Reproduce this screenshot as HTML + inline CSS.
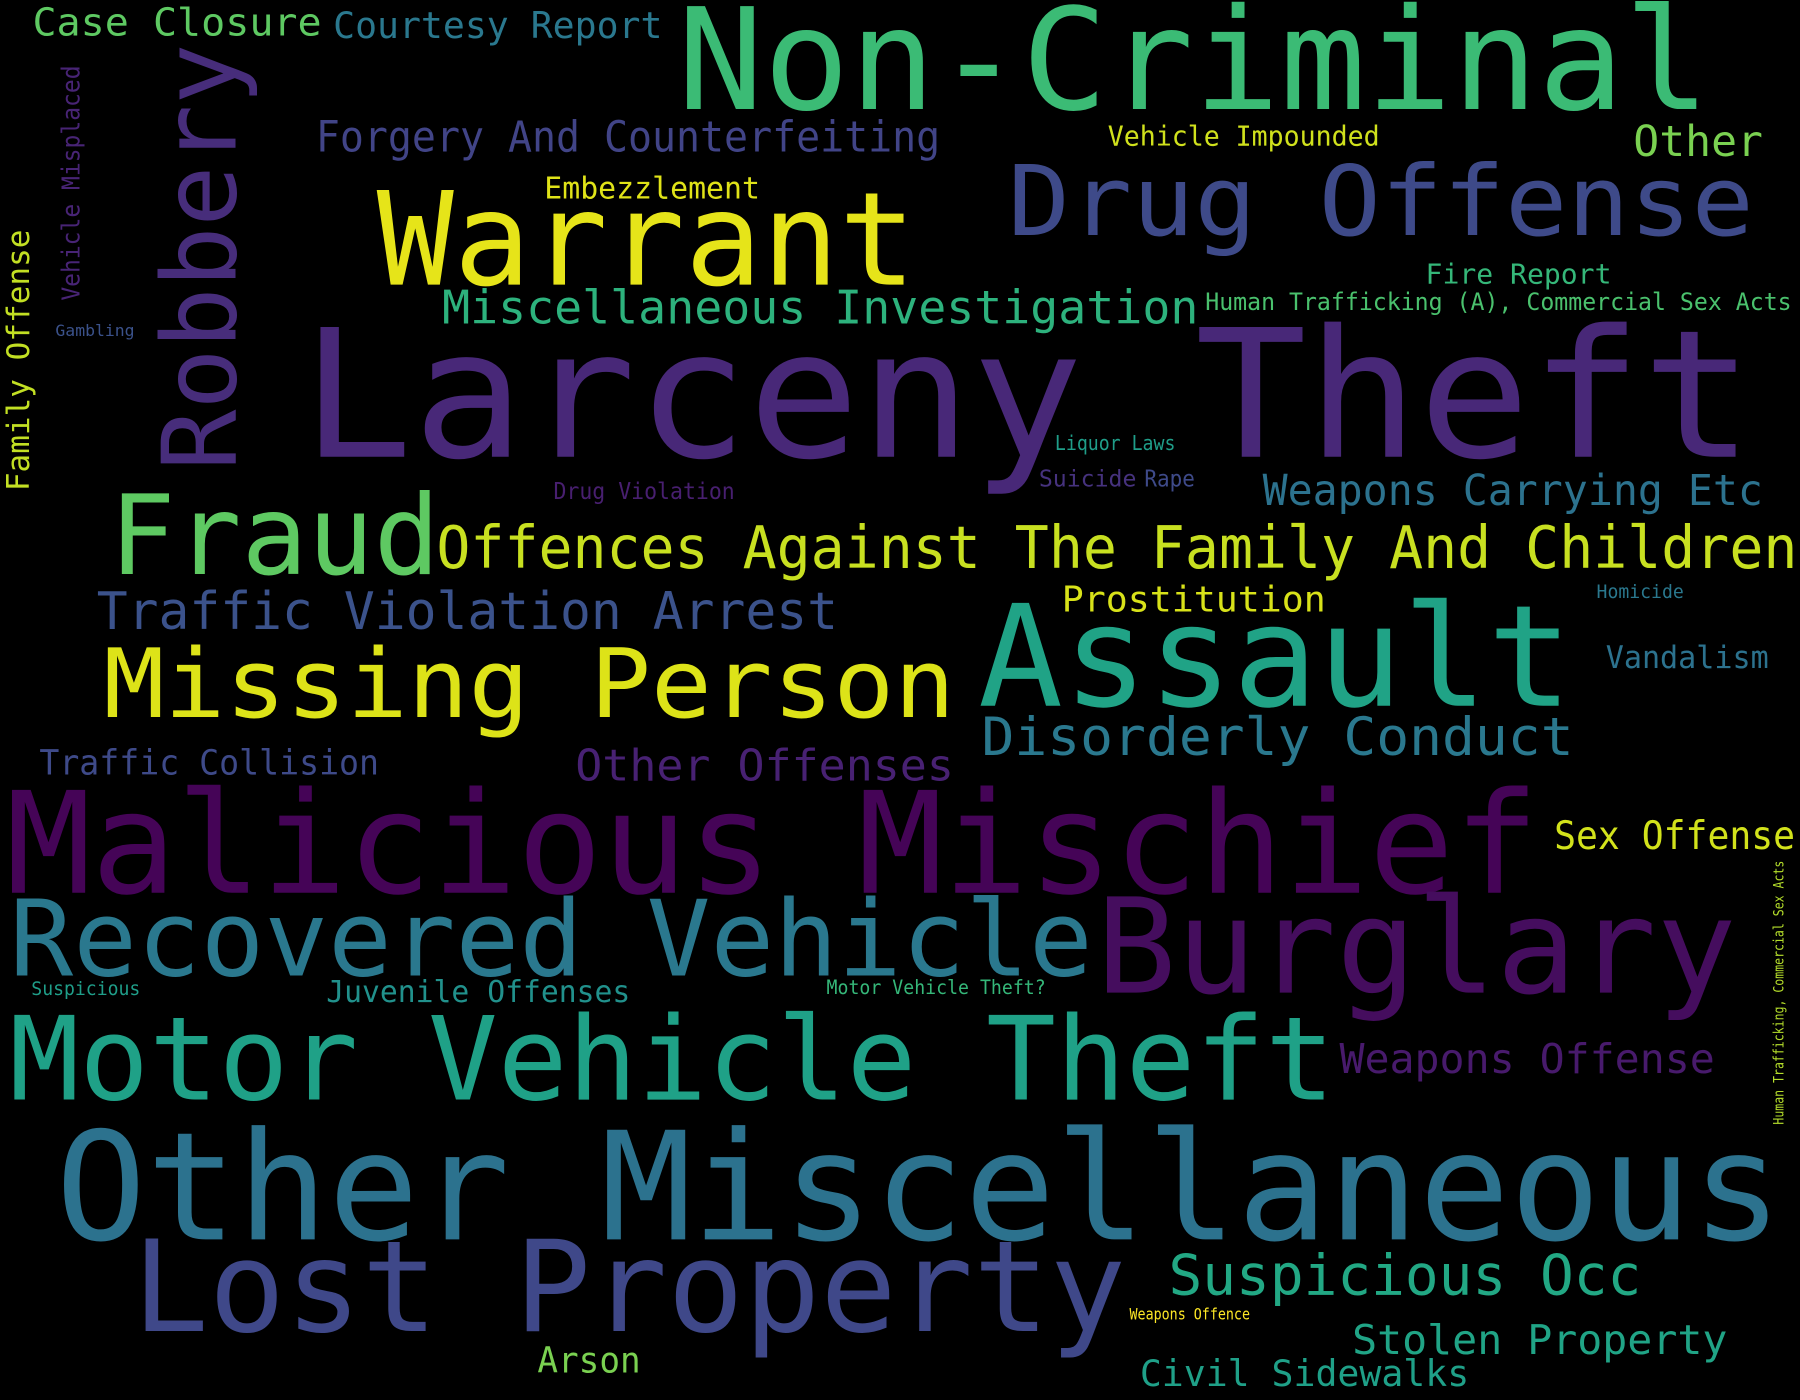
<!DOCTYPE html>
<html><head><meta charset="utf-8"><style>
html,body{margin:0;padding:0;background:#000;}
svg{display:block;}
text{font-family:"DejaVu Sans Mono","Liberation Mono",monospace;}
</style></head><body>
<svg width="1800" height="1400" viewBox="0 0 1568 1220" xmlns="http://www.w3.org/2000/svg">
<rect width="1568" height="1220" fill="#000"/>
<g>
<text x="28" y="31" font-size="33" fill="#5ec962" textLength="252" lengthAdjust="spacingAndGlyphs">Case Closure</text>
<text x="290" y="33" font-size="32" fill="#2a788e" textLength="287" lengthAdjust="spacingAndGlyphs">Courtesy Report</text>
<text x="590" y="95" font-size="123" fill="#3bbb75" textLength="900" lengthAdjust="spacingAndGlyphs">Non-Criminal</text>
<text x="275" y="132" font-size="37" fill="#414487" textLength="544" lengthAdjust="spacingAndGlyphs">Forgery And Counterfeiting</text>
<text x="965" y="127" font-size="24" fill="#d0e11c" textLength="237" lengthAdjust="spacingAndGlyphs">Vehicle Impounded</text>
<text x="1423" y="136" font-size="37" fill="#7ad151" textLength="113" lengthAdjust="spacingAndGlyphs">Other</text>
<text x="878" y="205" font-size="85" fill="#3e4a89" textLength="650" lengthAdjust="spacingAndGlyphs">Drug Offense</text>
<text x="474" y="173" font-size="26" fill="#e0e318" textLength="188" lengthAdjust="spacingAndGlyphs">Embezzlement</text>
<text x="328" y="248" font-size="113" fill="#e6e419" textLength="470" lengthAdjust="spacingAndGlyphs">Warrant</text>
<text x="205" y="410" font-size="89" fill="#472d7b" textLength="372" lengthAdjust="spacingAndGlyphs" transform="rotate(-90 205 410)">Robbery</text>
<text x="385" y="282" font-size="40" fill="#2db27d" textLength="659" lengthAdjust="spacingAndGlyphs">Miscellaneous Investigation</text>
<text x="1242" y="247" font-size="24" fill="#35b779" textLength="162" lengthAdjust="spacingAndGlyphs">Fire Report</text>
<text x="1050" y="270" font-size="21" fill="#4ac16d" textLength="511" lengthAdjust="spacingAndGlyphs">Human Trafficking (A), Commercial Sex Acts</text>
<text x="48" y="293" font-size="14" fill="#3b528b" textLength="69" lengthAdjust="spacingAndGlyphs">Gambling</text>
<text x="69" y="262" font-size="22" fill="#482475" textLength="205" lengthAdjust="spacingAndGlyphs" transform="rotate(-90 69 262)">Vehicle Misplaced</text>
<text x="25" y="428" font-size="27" fill="#c2df23" textLength="228" lengthAdjust="spacingAndGlyphs" transform="rotate(-90 25 428)">Family Offense</text>
<text x="262" y="398" font-size="155" fill="#482878" textLength="1266" lengthAdjust="spacingAndGlyphs">Larceny Theft</text>
<text x="919" y="392" font-size="18" fill="#1f9e89" textLength="105" lengthAdjust="spacingAndGlyphs">Liquor Laws</text>
<text x="905" y="424" font-size="20" fill="#46327e" textLength="85" lengthAdjust="spacingAndGlyphs">Suicide</text>
<text x="997" y="424" font-size="20" fill="#3e4a89" textLength="44" lengthAdjust="spacingAndGlyphs">Rape</text>
<text x="482" y="435" font-size="20" fill="#481f70" textLength="158" lengthAdjust="spacingAndGlyphs">Drug Violation</text>
<text x="1100" y="440" font-size="37" fill="#2c728e" textLength="436" lengthAdjust="spacingAndGlyphs">Weapons Carrying Etc</text>
<text x="95" y="500" font-size="96" fill="#5ec962" textLength="288" lengthAdjust="spacingAndGlyphs">Fraud</text>
<text x="380" y="495" font-size="51" fill="#c8e020" textLength="1186" lengthAdjust="spacingAndGlyphs">Offences Against The Family And Children</text>
<text x="925" y="533" font-size="31" fill="#d8e219" textLength="230" lengthAdjust="spacingAndGlyphs">Prostitution</text>
<text x="1391" y="521" font-size="16" fill="#2a788e" textLength="76" lengthAdjust="spacingAndGlyphs">Homicide</text>
<text x="84" y="548" font-size="45" fill="#3b528b" textLength="646" lengthAdjust="spacingAndGlyphs">Traffic Violation Arrest</text>
<text x="852" y="615" font-size="123" fill="#20a386" textLength="518" lengthAdjust="spacingAndGlyphs">Assault</text>
<text x="90" y="625" font-size="83" fill="#dde318" textLength="742" lengthAdjust="spacingAndGlyphs">Missing Person</text>
<text x="1399" y="582" font-size="27" fill="#2c728e" textLength="142" lengthAdjust="spacingAndGlyphs">Vandalism</text>
<text x="855" y="658" font-size="46" fill="#2a788e" textLength="516" lengthAdjust="spacingAndGlyphs">Disorderly Conduct</text>
<text x="34" y="675" font-size="30" fill="#3e4a89" textLength="296" lengthAdjust="spacingAndGlyphs">Traffic Collision</text>
<text x="501" y="680" font-size="38" fill="#482173" textLength="330" lengthAdjust="spacingAndGlyphs">Other Offenses</text>
<text x="5" y="778" font-size="123" fill="#450457" textLength="1336" lengthAdjust="spacingAndGlyphs">Malicious Mischief</text>
<text x="1354" y="740" font-size="34" fill="#d2e21b" textLength="210" lengthAdjust="spacingAndGlyphs">Sex Offense</text>
<text x="8" y="850" font-size="92" fill="#2a788e" textLength="944" lengthAdjust="spacingAndGlyphs">Recovered Vehicle</text>
<text x="955" y="865" font-size="115" fill="#450d5e" textLength="558" lengthAdjust="spacingAndGlyphs">Burglary</text>
<text x="27" y="867" font-size="16" fill="#1f9e89" textLength="95" lengthAdjust="spacingAndGlyphs">Suspicious</text>
<text x="284" y="873" font-size="26" fill="#21918c" textLength="265" lengthAdjust="spacingAndGlyphs">Juvenile Offenses</text>
<text x="720" y="866" font-size="17" fill="#35b779" textLength="191" lengthAdjust="spacingAndGlyphs">Motor Vehicle Theft?</text>
<text x="8" y="958" font-size="101" fill="#1fa187" textLength="1155" lengthAdjust="spacingAndGlyphs">Motor Vehicle Theft</text>
<text x="1167" y="935" font-size="36" fill="#481a6c" textLength="327" lengthAdjust="spacingAndGlyphs">Weapons Offense</text>
<text x="1554" y="980" font-size="12" fill="#b5de2b" textLength="230" lengthAdjust="spacingAndGlyphs" transform="rotate(-90 1554 980)">Human Trafficking, Commercial Sex Acts</text>
<text x="48" y="1080" font-size="131" fill="#2c728e" textLength="1505" lengthAdjust="spacingAndGlyphs">Other Miscellaneous</text>
<text x="115" y="1160" font-size="110" fill="#3f4889" textLength="866" lengthAdjust="spacingAndGlyphs">Lost Property</text>
<text x="1018" y="1128" font-size="49" fill="#22a884" textLength="412" lengthAdjust="spacingAndGlyphs">Suspicious Occ</text>
<text x="984" y="1150" font-size="14" fill="#fde725" textLength="105" lengthAdjust="spacingAndGlyphs">Weapons Offence</text>
<text x="1178" y="1180" font-size="36" fill="#20a486" textLength="327" lengthAdjust="spacingAndGlyphs">Stolen Property</text>
<text x="468" y="1196" font-size="31" fill="#7ad151" textLength="90" lengthAdjust="spacingAndGlyphs">Arson</text>
<text x="993" y="1208" font-size="32" fill="#1fa088" textLength="287" lengthAdjust="spacingAndGlyphs">Civil Sidewalks</text>
</g>
</svg>
</body></html>
